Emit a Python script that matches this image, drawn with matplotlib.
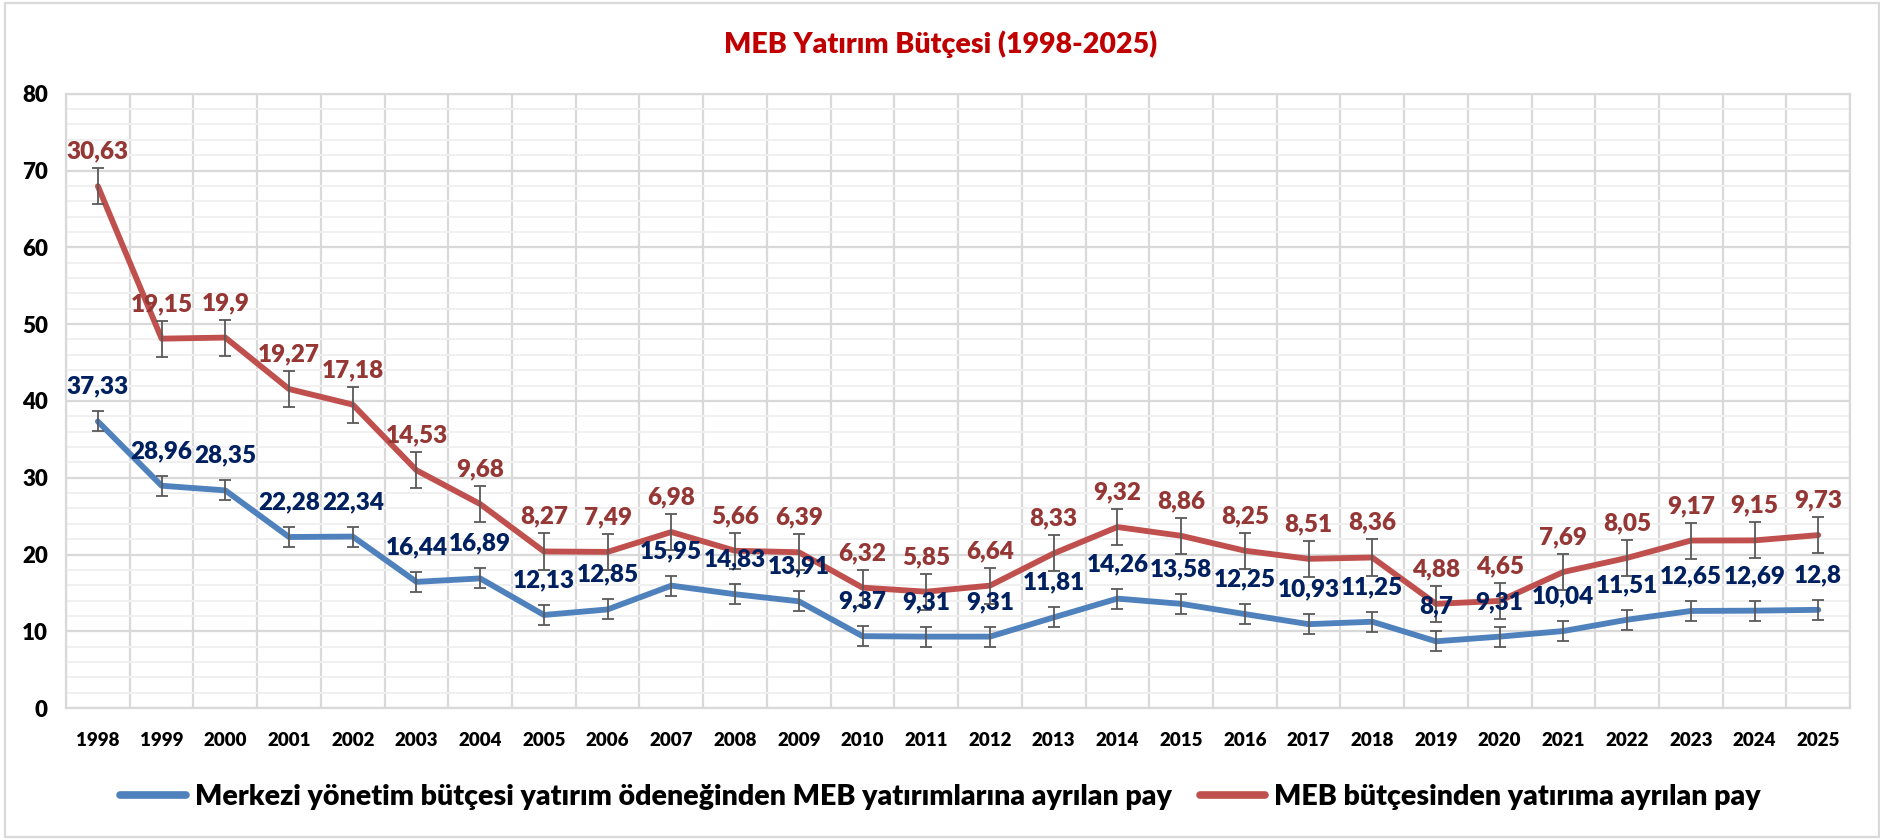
import numpy as np
import matplotlib
matplotlib.use("Agg")
import matplotlib.pyplot as plt
from matplotlib.patches import Rectangle

plt.rcParams['font.family'] = ['Lato', 'DejaVu Sans']

years = [str(y) for y in range(1998, 2026)]

# merkezi yönetim bütçesi yatırım ödeneğinden MEB payı
merkezi = [37.33, 28.96, 28.35, 22.28, 22.34, 16.44, 16.89, 12.13, 12.85, 15.95,
           14.83, 13.91, 9.37, 9.31, 9.31, 11.81, 14.26, 13.58, 12.25, 10.93,
           11.25, 8.7, 9.31, 10.04, 11.51, 12.65, 12.69, 12.8]
# MEB bütçesinden yatırıma ayrılan pay (yığılmış çizgi)
meb = [30.63, 19.15, 19.9, 19.27, 17.18, 14.53, 9.68, 8.27, 7.49, 6.98,
       5.66, 6.39, 6.32, 5.85, 6.64, 8.33, 9.32, 8.86, 8.25, 8.51,
       8.36, 4.88, 4.65, 7.69, 8.05, 9.17, 9.15, 9.73]

# standart hata çubukları
err_merkezi = 1.3
err_meb = 2.35

blue = '#4F81BD'
red = '#C0504D'
blue_lbl = '#002060'
red_lbl = '#953735'

x = np.arange(len(years))
merkezi = np.array(merkezi)
meb_stack = merkezi + np.array(meb)

fig = plt.figure(figsize=(18.81, 8.40), dpi=100)
ax = fig.add_axes([0.0351, 0.157, 0.9485, 0.7314])

# grid
ax.set_ylim(0, 80)
ax.set_xlim(-0.5, len(years) - 0.5)
ax.set_yticks(np.arange(0, 81, 10))
ax.set_yticks(np.arange(0, 81, 2), minor=True)
ax.set_xticks(x)
ax.set_xticks(np.arange(-0.5, len(years), 1), minor=True)
ax.grid(which='major', axis='y', color='#D9D9D9', lw=1.6)
ax.grid(which='minor', axis='y', color='#F0F0F0', lw=1.4)
ax.grid(which='minor', axis='x', color='#D9D9D9', lw=1.6)
ax.set_axisbelow(True)
for s in ax.spines.values():
    s.set_color('#D9D9D9')
    s.set_linewidth(1.6)
ax.tick_params(which='both', length=0)
ax.tick_params(axis='y', pad=13)
ax.tick_params(axis='x', pad=17)
ax.set_xticklabels(years, fontsize=13.5, fontweight='heavy')
ax.set_yticklabels([str(v) for v in range(0, 81, 10)], fontsize=16, fontweight='heavy')

# çizgiler
ax.plot(x, merkezi, color=blue, lw=4.2, solid_capstyle='round', zorder=3,
        label='Merkezi yönetim bütçesi yatırım ödeneğinden MEB yatırımlarına ayrılan pay')
ax.plot(x, meb_stack, color=red, lw=4.2, solid_capstyle='round', zorder=3,
        label='MEB bütçesinden yatırıma ayrılan pay')
ax.errorbar(x, merkezi, yerr=err_merkezi, fmt='none', ecolor='#595959', elinewidth=1.3,
            capsize=4, capthick=1.3, zorder=4)
ax.errorbar(x, meb_stack, yerr=err_meb, fmt='none', ecolor='#595959', elinewidth=1.3,
            capsize=4, capthick=1.3, zorder=4)

# etiketler
for i in range(len(years)):
    ax.annotate(('%g' % merkezi[i]).replace('.', ','), (x[i], merkezi[i]),
                xytext=(0, 25), textcoords='offset points', ha='center', va='center',
                fontsize=17.5, fontweight='heavy', color=blue_lbl, zorder=5)
    ax.annotate(('%g' % meb[i]).replace('.', ','), (x[i], meb_stack[i]),
                xytext=(0, 25), textcoords='offset points', ha='center', va='center',
                fontsize=17.5, fontweight='heavy', color=red_lbl, zorder=5)

fig.text(0.5, 0.947, 'MEB Yatırım Bütçesi (1998-2025)', ha='center', va='center',
         fontsize=20.5, fontweight='heavy', color='#C00000')

leg = fig.legend(loc='center', bbox_to_anchor=(0.5, 0.051), ncol=2, frameon=False,
                 prop={'size': 20.5, 'weight': 'heavy'}, handlelength=2.3, columnspacing=1.0,
                 handletextpad=0.3)
for h in leg.get_lines():
    h.set_linewidth(5.5)

fig.patches.append(Rectangle((0.0027, 0.003), 0.9963, 0.994, transform=fig.transFigure,
                             fill=False, edgecolor='#D9D9D9', lw=1.6))

fig.savefig('out.png', dpi=100)
